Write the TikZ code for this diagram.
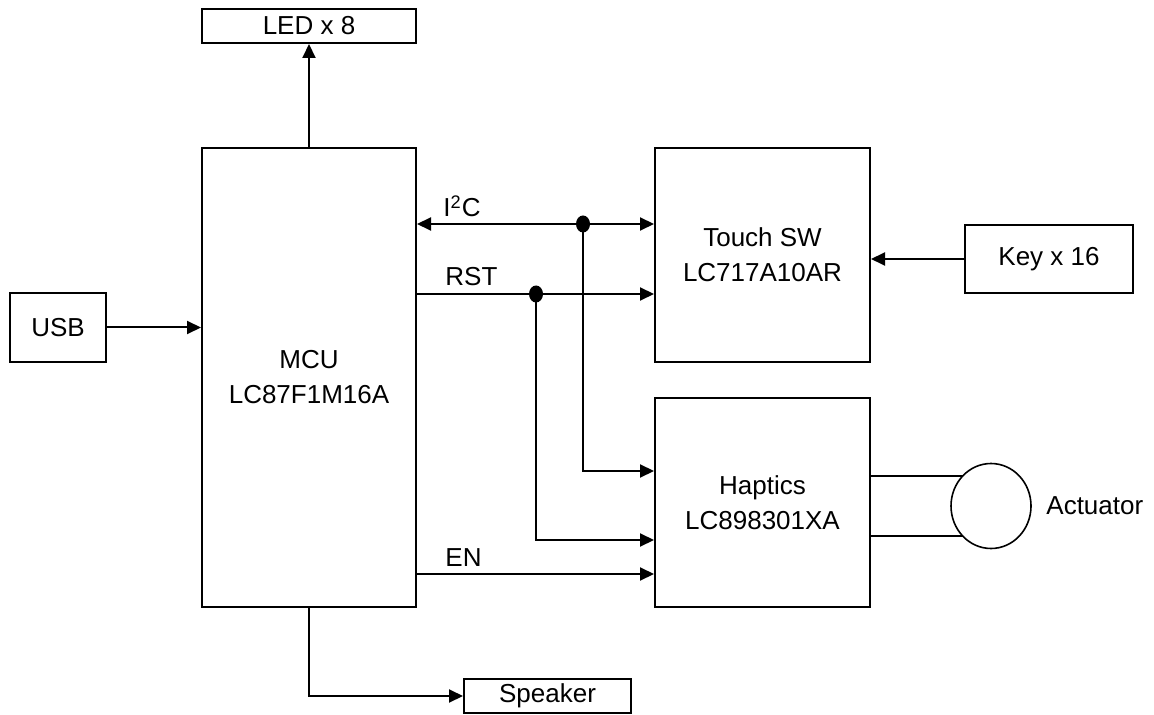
\documentclass[tikz,border=0pt]{standalone}
\usepackage{fontspec}
\setmainfont{Liberation Sans}
\usetikzlibrary{arrows.meta,shapes.geometric}
\begin{document}
\begin{tikzpicture}[x=0.5pt,y=-0.5pt,
  font=\fontsize{13}{17.5}\selectfont,
  box/.style={draw, line width=1pt, inner sep=0pt, align=center},
  tip/.tip={Triangle[length=7pt,width=6.5pt]},
  conn/.style={line width=1pt, -tip},
  wire/.style={line width=0.9pt},
  jdot/.style={fill, ellipse, minimum width=7pt, minimum height=8.5pt, inner sep=0pt},
  lbl/.style={anchor=base west, inner sep=0pt}]
\useasboundingbox (0,0) rectangle (1154,715);
% blocks
\node[box, minimum width=107pt, minimum height=17pt] (led) at (309,26) {LED x 8};
\node[box, minimum width=107pt, minimum height=229.5pt] (mcu) at (309,377.5) {MCU\\LC87F1M16A};
\node[box, minimum width=107.5pt, minimum height=107pt] (touch) at (762.5,255) {Touch SW\\LC717A10AR};
\node[box, minimum width=107.5pt, minimum height=104.5pt] (hap) at (762.5,502.5) {Haptics\\LC898301XA};
\node[box, minimum width=84pt, minimum height=34pt] (key) at (1049,259) {Key x 16};
\node[box, minimum width=48pt, minimum height=34.5pt] (usb) at (58,327.5) {USB};
\node[box, minimum width=83.5pt, minimum height=17pt] (spk) at (547.5,696) {Speaker};
\node[draw, line width=0.8pt, ellipse, minimum width=40pt, minimum height=42.5pt, inner sep=0pt] (act) at (991,506) {};
\node[anchor=west, inner sep=0pt] (actl) at (1046,506) {Actuator};
% junction dots
\node[jdot] (d1) at (583,224) {};
\node[jdot] (d2) at (536,294) {};
% helper coordinates on Haptics input side
\path (hap.west) +(0,-31.5) coordinate (hin1) +(0,37.5) coordinate (hin2) +(0,71.5) coordinate (hin3);
\path (act.center) +(-28.3,-30) coordinate (a1) +(-28.3,30) coordinate (a2);
% connectors
\draw[conn] (mcu.north) -- (led.south);
\draw[conn] (usb.east) -- (usb.east -| mcu.west);
\draw[conn] (key.west) -- (key.west -| touch.east);
\draw[line width=1pt, tip-tip] (mcu.east |- d1) -- (touch.west |- d1);
\draw[conn] (mcu.east |- d2) -- (touch.west |- d2);
\draw[conn] (d1.center) |- (hin1);
\draw[conn] (d2.center) |- (hin2);
\draw[conn] (mcu.east |- hin3) -- (hin3);
\draw[conn] (mcu.south) |- (spk.west);
\draw[wire] (hap.east |- a1) -- (a1);
\draw[wire] (hap.east |- a2) -- (a2);
% signal labels
\node[lbl] (li2c) at (443,217) {I\textsuperscript{2}C};
\node[lbl] (lrst) at (445,286) {RST};
\node[lbl] (len) at (445,566) {EN};
\end{tikzpicture}
\end{document}
